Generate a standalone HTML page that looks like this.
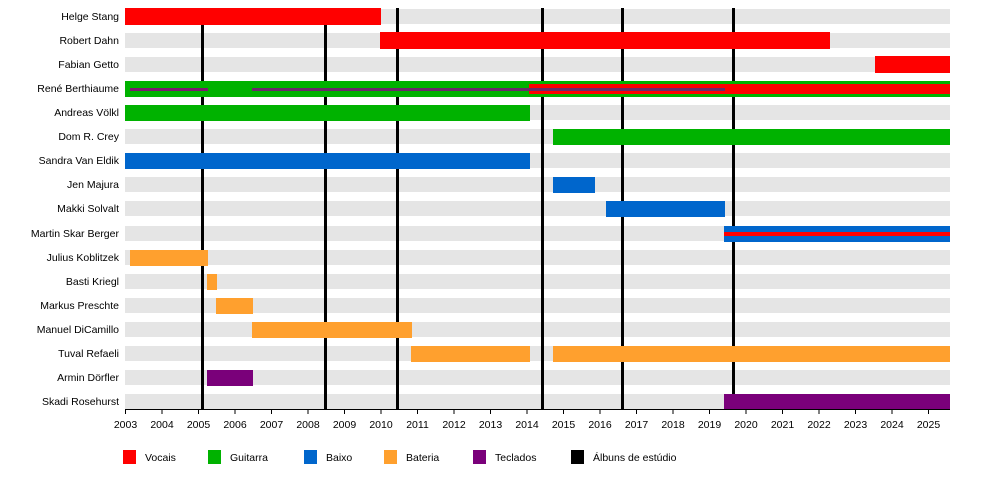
<!DOCTYPE html>
<html><head><meta charset="utf-8"><style>body{margin:0;background:#fff}svg{display:block}text{font-family:"Liberation Sans",sans-serif;font-size:10.5px;fill:#000}</style></head><body>
<svg width="1000" height="483" viewBox="0 0 1000 483" xmlns="http://www.w3.org/2000/svg">
<g fill="#e5e5e5">
<rect x="125" y="9" width="825" height="15"/><rect x="125" y="33" width="825" height="15"/><rect x="125" y="57" width="825" height="15"/><rect x="125" y="81" width="825" height="15"/><rect x="125" y="105" width="825" height="15"/><rect x="125" y="129" width="825" height="15"/><rect x="125" y="153" width="825" height="15"/><rect x="125" y="177" width="825" height="15"/><rect x="125" y="201" width="825" height="15"/><rect x="125" y="226" width="825" height="15"/><rect x="125" y="250" width="825" height="15"/><rect x="125" y="274" width="825" height="15"/><rect x="125" y="298" width="825" height="15"/><rect x="125" y="322" width="825" height="15"/><rect x="125" y="346" width="825" height="15"/><rect x="125" y="370" width="825" height="15"/><rect x="125" y="394" width="825" height="15"/>
</g>
<g fill="#000">
<rect x="201" y="8" width="3" height="401"/><rect x="324" y="8" width="3" height="401"/><rect x="396" y="8" width="3" height="401"/><rect x="541" y="8" width="3" height="401"/><rect x="621" y="8" width="3" height="401"/><rect x="732" y="8" width="3" height="401"/>
</g>
<rect x="125" y="8" width="256" height="17" fill="#ff0000"/>
<rect x="380" y="32" width="450" height="17" fill="#ff0000"/>
<rect x="875" y="56" width="75" height="17" fill="#ff0000"/>
<rect x="125" y="81" width="825" height="16" fill="#00b200"/>
<rect x="529" y="84" width="421" height="10" fill="#ff0000"/>
<rect x="130" y="88" width="78" height="3" fill="#7a1c6e"/>
<rect x="252" y="88" width="473" height="3" fill="#6a2a6a"/>
<rect x="125" y="105" width="405" height="16" fill="#00b200"/>
<rect x="553" y="129" width="397" height="16" fill="#00b200"/>
<rect x="125" y="153" width="405" height="16" fill="#0066cc"/>
<rect x="553" y="177" width="42" height="16" fill="#0066cc"/>
<rect x="606" y="201" width="119" height="16" fill="#0066cc"/>
<rect x="724" y="226" width="226" height="16" fill="#0066cc"/>
<rect x="724" y="232" width="226" height="4" fill="#ff0000"/>
<g fill="#ffa02e">
<rect x="130" y="250" width="78" height="16"/><rect x="207" y="274" width="10" height="16"/><rect x="216" y="298" width="37" height="16"/><rect x="252" y="322" width="160" height="16"/><rect x="411" y="346" width="119" height="16"/><rect x="553" y="346" width="397" height="16"/>
</g>
<rect x="207" y="370" width="46" height="16" fill="#7a007a"/>
<rect x="724" y="394" width="226" height="16" fill="#7a007a"/>
<line x1="125" y1="409.5" x2="950" y2="409.5" stroke="#000"/>
<g stroke="#000">
<line x1="125.5" y1="409" x2="125.5" y2="414"/><line x1="162" y1="409" x2="162" y2="414"/><line x1="198.5" y1="409" x2="198.5" y2="414"/><line x1="235" y1="409" x2="235" y2="414"/><line x1="271.5" y1="409" x2="271.5" y2="414"/><line x1="308" y1="409" x2="308" y2="414"/><line x1="344.5" y1="409" x2="344.5" y2="414"/><line x1="381" y1="409" x2="381" y2="414"/><line x1="417.5" y1="409" x2="417.5" y2="414"/><line x1="454" y1="409" x2="454" y2="414"/><line x1="490.5" y1="409" x2="490.5" y2="414"/><line x1="527" y1="409" x2="527" y2="414"/><line x1="563.5" y1="409" x2="563.5" y2="414"/><line x1="600" y1="409" x2="600" y2="414"/><line x1="636.5" y1="409" x2="636.5" y2="414"/><line x1="673" y1="409" x2="673" y2="414"/><line x1="709.5" y1="409" x2="709.5" y2="414"/><line x1="746" y1="409" x2="746" y2="414"/><line x1="782.5" y1="409" x2="782.5" y2="414"/><line x1="819" y1="409" x2="819" y2="414"/><line x1="855.5" y1="409" x2="855.5" y2="414"/><line x1="892" y1="409" x2="892" y2="414"/><line x1="928.5" y1="409" x2="928.5" y2="414"/>
</g>
<g text-anchor="middle">
<text x="125.5" y="428">2003</text><text x="162" y="428">2004</text><text x="198.5" y="428">2005</text><text x="235" y="428">2006</text><text x="271.5" y="428">2007</text><text x="308" y="428">2008</text><text x="344.5" y="428">2009</text><text x="381" y="428">2010</text><text x="417.5" y="428">2011</text><text x="454" y="428">2012</text><text x="490.5" y="428">2013</text><text x="527" y="428">2014</text><text x="563.5" y="428">2015</text><text x="600" y="428">2016</text><text x="636.5" y="428">2017</text><text x="673" y="428">2018</text><text x="709.5" y="428">2019</text><text x="746" y="428">2020</text><text x="782.5" y="428">2021</text><text x="819" y="428">2022</text><text x="855.5" y="428">2023</text><text x="892" y="428">2024</text><text x="928.5" y="428">2025</text>
</g>
<g text-anchor="end">
<text x="119" y="20">Helge Stang</text><text x="119" y="44">Robert Dahn</text><text x="119" y="68">Fabian Getto</text><text x="119" y="92">René Berthiaume</text><text x="119" y="116">Andreas Völkl</text><text x="119" y="140">Dom R. Crey</text><text x="119" y="164">Sandra Van Eldik</text><text x="119" y="188">Jen Majura</text><text x="119" y="212">Makki Solvalt</text><text x="119" y="237">Martin Skar Berger</text><text x="119" y="261">Julius Koblitzek</text><text x="119" y="285">Basti Kriegl</text><text x="119" y="309">Markus Preschte</text><text x="119" y="333">Manuel DiCamillo</text><text x="119" y="357">Tuval Refaeli</text><text x="119" y="381">Armin Dörfler</text><text x="119" y="405">Skadi Rosehurst</text>
</g>
<rect x="123" y="450" width="13" height="14" fill="#ff0000"/><text x="145" y="461">Vocais</text>
<rect x="208" y="450" width="13" height="14" fill="#00b200"/><text x="230" y="461">Guitarra</text>
<rect x="304" y="450" width="13" height="14" fill="#0066cc"/><text x="326" y="461">Baixo</text>
<rect x="384" y="450" width="13" height="14" fill="#ffa02e"/><text x="406" y="461">Bateria</text>
<rect x="473" y="450" width="13" height="14" fill="#7a007a"/><text x="495" y="461">Teclados</text>
<rect x="571" y="450" width="13" height="14" fill="#000"/><text x="593" y="461">Álbuns de estúdio</text>
</svg>
</body></html>
